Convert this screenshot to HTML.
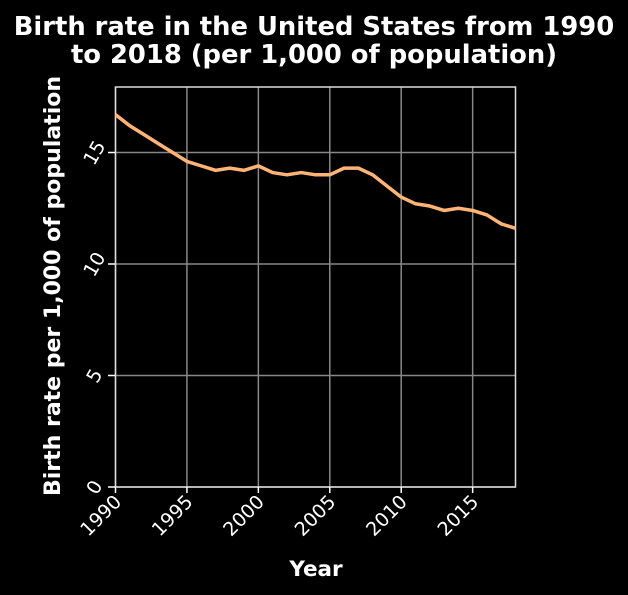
<!DOCTYPE html>
<html><head><meta charset="utf-8"><style>
body{margin:0;background:#000;width:628px;height:590px;overflow:hidden}
svg text{font-family:"DejaVu Sans","Liberation Sans",sans-serif;fill:#fff}
</style></head><body>
<svg width="628" height="590">
<text x="314" y="35" text-anchor="middle" font-size="25.8" font-weight="bold">Birth rate in the United States from 1990</text>
<text x="314" y="63" text-anchor="middle" font-size="25.8" font-weight="bold">to 2018 (per 1,000 of population)</text>
<g id="grid"></g>
<rect x="115.5" y="87" width="400" height="400" fill="none" stroke="#ddd" stroke-width="1.5"/>
<g id="ticks"></g>
<path id="line" fill="none" stroke="#ffb476" stroke-width="3.5" stroke-linejoin="round"/>
<text x="316" y="576" text-anchor="middle" font-size="21.5" font-weight="bold">Year</text>
<text transform="translate(60,286) rotate(-90)" text-anchor="middle" font-size="22" font-weight="bold">Birth rate per 1,000 of population</text>
</svg>
<script>
const years=[1990,1991,1992,1993,1994,1995,1996,1997,1998,1999,2000,2001,2002,2003,2004,2005,2006,2007,2008,2009,2010,2011,2012,2013,2014,2015,2016,2017,2018];
const rates=[16.7,16.2,15.8,15.4,15.0,14.6,14.4,14.2,14.3,14.2,14.4,14.1,14.0,14.1,14.0,14.0,14.3,14.3,14.0,13.5,13.0,12.7,12.6,12.4,12.5,12.4,12.2,11.8,11.6];
const xTicks=[1990,1995,2000,2005,2010,2015];
const yTicks=[0,5,10,15];
const X=v=>115.5+(v-1990)*(400/28);
const Y=v=>487-v*22.3;
const ns='http://www.w3.org/2000/svg';
const grid=document.getElementById('grid'),ticks=document.getElementById('ticks');
function mk(tag,a,p){const e=document.createElementNS(ns,tag);for(const k in a)e.setAttribute(k,a[k]);p.appendChild(e);return e;}
xTicks.forEach(t=>{
 const g=mk('line',{x1:X(t),x2:X(t),y1:87,y2:487,stroke:'#888','stroke-width':1.5},grid);
 
 
 const tk=mk('line',{x1:X(t),x2:X(t),y1:487,y2:493,stroke:'#fff','stroke-width':1.5},ticks);
 
 
 const l=mk('text',{x:X(t)+7,y:503,'font-size':19,'text-anchor':'end',transform:`rotate(-45 ${X(t)+7} 503)`},ticks);
 l.textContent=t;
 
 
});
yTicks.forEach(t=>{
 const g=mk('line',{x1:115,x2:515,y1:Y(t),y2:Y(t),stroke:'#888','stroke-width':1.5},grid);
 
 
 const tk=mk('line',{x1:108,x2:115,y1:Y(t),y2:Y(t),stroke:'#fff','stroke-width':1.5},ticks);
 
 
 const l=mk('text',{x:0,y:7,'font-size':19,'text-anchor':'middle',transform:`translate(94,${Y(t)}) rotate(-60)`},ticks);
 l.textContent=t;
 
 
});
document.getElementById('line').setAttribute('d',years.map((y,i)=>(i?'L':'M')+X(y)+','+Y(rates[i])).join(''));
</script>
</body></html>
